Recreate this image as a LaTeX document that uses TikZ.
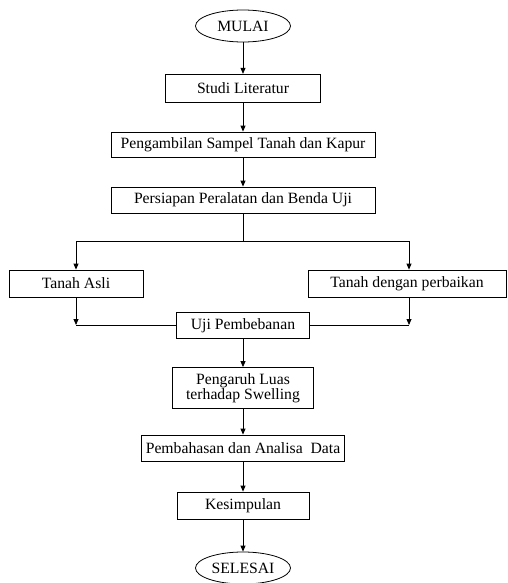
\documentclass[tikz,border=0pt]{standalone}
\usepackage{fontspec}
\setmainfont{Liberation Serif}
\usetikzlibrary{shapes.geometric,arrows.meta}
\begin{document}
\begin{tikzpicture}[x=1pt,y=1pt,
  font=\fontsize{15.7}{17}\selectfont,
  box/.style={draw, line width=0.8pt, rectangle, inner sep=0pt, align=center},
  oval/.style={draw, line width=0.8pt, ellipse, inner sep=0pt, minimum width=95pt, minimum height=32pt},
  arr/.style={line width=0.8pt, -{Triangle[length=6pt,width=5pt]}},
  ln/.style={line width=0.8pt}]
\useasboundingbox (0,0) rectangle (507,-583);
\node[oval] (mulai) at (243,-26) {MULAI};
\node[box, line width=1.3pt, minimum width=155pt, minimum height=28pt] (studi) at (243,-88.5) {Studi Literatur};
\node[box, minimum width=264pt, minimum height=25pt] (ambil) at (243,-144.5) {Pengambilan Sampel Tanah dan Kapur};
\node[box, minimum width=264pt, minimum height=26pt] (siap) at (243,-200) {Persiapan Peralatan dan Benda Uji};
\node[box, minimum width=134pt, minimum height=27pt] (asli) at (76,-283.5) {Tanah Asli};
\node[box, minimum width=198pt, minimum height=27pt] (baik) at (407,-283.5) {Tanah dengan perbaikan};
\node[box, minimum width=133pt, minimum height=26pt] (uji) at (243,-325.5) {Uji Pembebanan};
\node[box, minimum width=141pt, minimum height=41pt] (pengaruh) at (243,-388) {Pengaruh Luas\\[-2pt]terhadap Swelling};
\node[box, minimum width=203pt, minimum height=26pt] (bahas) at (243,-448) {Pembahasan dan Analisa\ \ Data};
\node[box, minimum width=132pt, minimum height=27pt] (simpul) at (243,-505.5) {Kesimpulan};
\node[oval] (selesai) at (243,-568) {SELESAI};

\coordinate (bl) at (76,-241);
\coordinate (br) at (409,-241);
\coordinate (cl) at (76,-325);
\coordinate (cr) at (409,-325);

\draw[arr] (mulai.south) -- (studi.north);
\draw[arr] (studi.south) -- (ambil.north);
\draw[arr] (ambil.south) -- (siap.north);
\draw[ln] (siap.south) -- (siap.south |- bl);
\draw[ln] (bl) -- (br);
\draw[arr] (bl) -- (asli.north -| bl);
\draw[arr] (br) -- (baik.north -| br);
\draw[arr] (asli.south -| cl) -- (cl);
\draw[arr] (baik.south -| cr) -- (cr);
\draw[ln] (cl) -- (uji.west |- cl);
\draw[ln] (cr) -- (uji.east |- cr);
\draw[arr] (uji.south) -- (pengaruh.north);
\draw[arr] (pengaruh.south) -- (bahas.north);
\draw[arr] (bahas.south) -- (simpul.north);
\draw[arr] (simpul.south) -- (selesai.north);
\end{tikzpicture}
\end{document}
